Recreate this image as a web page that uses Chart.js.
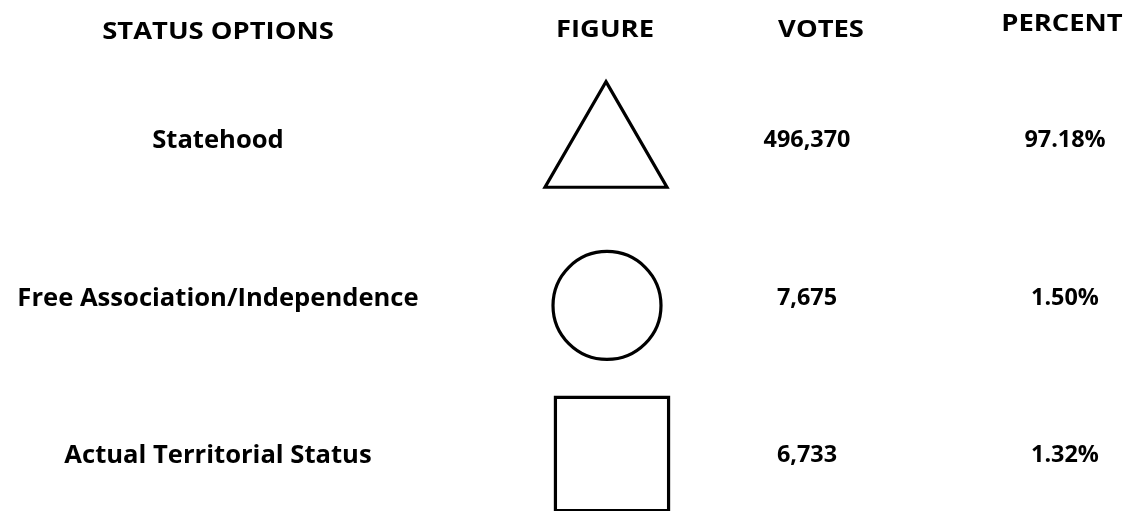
<!DOCTYPE html>
<html>
<head>
<meta charset="utf-8">
<script src="https://cdn.jsdelivr.net/npm/chart.js@4.4.1/dist/chart.umd.min.js"></script>
<style>
  html, body { margin: 0; padding: 0; background: #ffffff; }
  #wrap { width: 1127px; height: 511px; position: relative; }
  canvas { display: block; }
</style>
</head>
<body>
<div id="wrap"><canvas id="c" width="1127" height="511"></canvas></div>
<script>
// ---- data ----
const columnHeaders = ['STATUS OPTIONS', 'FIGURE', 'VOTES', 'PERCENT'];
const statusOptions = ['Statehood', 'Free Association/Independence', 'Actual Territorial Status'];
const figureStyles = ['triangle', 'circle', 'rect'];
const votes = [496370, 7675, 6733];
const percents = [97.18, 1.50, 1.32];

// ---- layout (scale units; x in table width units, y in row units) ----
const headerX = [218, 605, 821, 1062];
const headerY = [-0.692, -0.705, -0.705, -0.743];
const labelX = 218;
const figureX = [606, 607, 612];
const figureDy = [0.083, 0.057, 0];
const figureRadius = [70.4, 54, 80];
const votesX = 807;
const percentX = 1065;

const FONT = "'Open Sans', 'Noto Sans', sans-serif";
const CAP = 0.714; // cap-height ratio for Open Sans
const styles = {
  header: { size: 24, stretch: 1.14, weight: 700 },
  label:  { size: 25.6, stretch: 1.0, weight: 700 },
  number: { size: 23.4, stretch: 1.0, weight: 700 }
};

function drawText(ctx, text, px, py, st) {
  ctx.save();
  ctx.font = st.weight + ' ' + st.size + 'px ' + FONT;
  ctx.fillStyle = '#000000';
  ctx.textAlign = 'center';
  ctx.textBaseline = 'alphabetic';
  ctx.translate(px, py + st.size * CAP / 2);
  ctx.scale(st.stretch, 1);
  ctx.fillText(text, 0, 0);
  ctx.restore();
}

const tablePlugin = {
  id: 'tableText',
  afterDatasetsDraw(chart) {
    const ctx = chart.ctx;
    const xs = chart.scales.x, ys = chart.scales.y;
    columnHeaders.forEach((h, i) => {
      drawText(ctx, h, xs.getPixelForValue(headerX[i]), ys.getPixelForValue(headerY[i]), styles.header);
    });
    statusOptions.forEach((s, i) => {
      const py = ys.getPixelForValue(i);
      drawText(ctx, s, xs.getPixelForValue(labelX), py, styles.label);
      drawText(ctx, votes[i].toLocaleString('en-US'), xs.getPixelForValue(votesX), py, styles.number);
      drawText(ctx, percents[i].toFixed(2) + '%', xs.getPixelForValue(percentX), py, styles.number);
    });
  }
};

new Chart(document.getElementById('c'), {
  type: 'scatter',
  data: {
    datasets: [{
      data: statusOptions.map((s, i) => ({ x: figureX[i], y: i + figureDy[i] })),
      pointStyle: figureStyles,
      pointRadius: figureRadius,
      pointHoverRadius: figureRadius,
      borderColor: '#000000',
      backgroundColor: 'rgba(255,255,255,0)',
      borderWidth: 3.2,
      pointBorderWidth: 3.2,
      clip: false
    }]
  },
  options: {
    responsive: false,
    animation: false,
    events: [],
    layout: { padding: 0, autoPadding: false },
    plugins: { legend: { display: false }, tooltip: { enabled: false } },
    scales: {
      x: { type: 'linear', display: false, min: 0, max: 1127 },
      y: { type: 'linear', display: false, reverse: true, min: -0.8825, max: 2.362 }
    }
  },
  plugins: [tablePlugin]
});
</script>
</body>
</html>
